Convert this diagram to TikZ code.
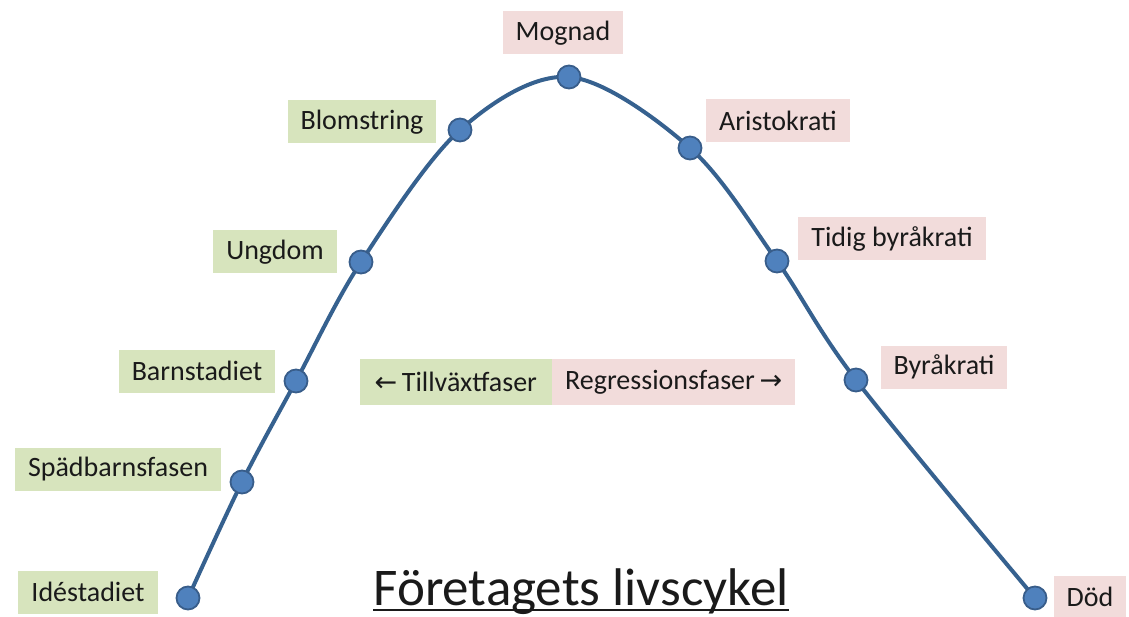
\documentclass[tikz,border=0pt]{standalone}
\usepackage{fontspec}
\setmainfont{Carlito}
\newfontfamily\arrowfont{DejaVu Sans}
\usetikzlibrary{positioning}
\definecolor{curveblue}{HTML}{36618F}
\definecolor{dotblue}{HTML}{4F81BD}
\definecolor{dotedge}{HTML}{385D8A}
\definecolor{growth}{HTML}{D7E4BD}
\definecolor{decline}{HTML}{F2DCDB}
\definecolor{ink}{HTML}{1A1A1A}
\tikzset{
  phase/.style={inner xsep=13pt, minimum height=43pt, text=ink,
    font=\fontsize{28}{32}\selectfont},
  growbox/.style={phase, fill=growth},
  declbox/.style={phase, fill=decline},
  stagedot/.style={circle, fill=dotblue, draw=dotedge, line width=1.8pt,
    minimum size=23pt, inner sep=0pt}
}

\begin{document}
\begin{tikzpicture}[x=1pt, y=-1pt]
  \useasboundingbox (0,0) rectangle (1129,617);
  % stage points on the curve
  \foreach \n/\x/\y in {ide/188/598, spad/242/482, barn/296/381,
                        ungd/361/262, blom/460/130, mogn/569/77,
                        aris/690/148, tidig/777/261, byra/856/380,
                        dod/1035/598}
    \coordinate (\n) at (\x,\y);
  % life cycle curve
  \draw[curveblue, line width=4pt] plot[smooth, tension=0.55]
    coordinates {(ide) (spad) (barn) (ungd) (blom) (mogn)
                 (aris) (tidig) (byra) (dod)};
  \foreach \n in {ide, spad, barn, ungd, blom, mogn, aris, tidig, byra, dod}
    \node[stagedot] (\n-dot) at (\n) {};
  % growth stages
  \node[growbox] (l-ide)  at (88,592)  {Idéstadiet};
  \node[growbox] (l-spad) at (118,469) {Spädbarnsfasen};
  \node[growbox] (l-barn) at (197,371) {Barnstadiet};
  \node[growbox] (l-ungd) at (275,252) {Ungdom};
  \node[growbox] (l-blom) at (362,122) {Blomstring};
  % decline stages
  \node[declbox] (l-mogn)  at (563,33)   {Mognad};
  \node[declbox] (l-aris)  at (778,121)  {Aristokrati};
  \node[declbox] (l-tidig) at (892,239)  {Tidig byråkrati};
  \node[declbox] (l-byra)  at (944,367)  {Byråkrati};
  \node[declbox] (l-dod)   at (1090,597) {Död};
  % phase legend
  \node[growbox, minimum width=192pt, minimum height=46pt, anchor=east]
    (tillv) at (552,382) {{\arrowfont\fontsize{27}{30}\selectfont ←}\,Tillväxtfaser};
  \node[declbox, minimum width=243pt, minimum height=46pt, right=0pt of tillv]
    (regr) {Regressionsfaser\,{\arrowfont\fontsize{27}{30}\selectfont →}};
  % title
  \node[anchor=base, inner sep=0pt, text=ink, font=\fontsize{53}{60}\selectfont]
    (title) at (581,605) {Företagets livscykel};
  \draw[ink, line width=1.6pt] ([yshift=-5pt]title.base west) -- ([yshift=-5pt]title.base east);
\end{tikzpicture}
\end{document}
